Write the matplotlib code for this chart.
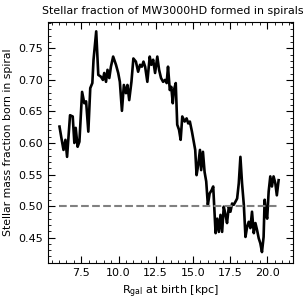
import matplotlib
matplotlib.use("Agg")
import matplotlib.pyplot as plt
from matplotlib.ticker import AutoMinorLocator

r_birth = [6.03, 6.18, 6.3, 6.43, 6.54, 6.74, 6.92, 7.03, 7.12, 7.25, 7.37, 7.55, 7.7, 7.82, 7.97,
           8.1, 8.24, 8.32, 8.5, 8.64, 8.82, 8.95, 9.04, 9.16, 9.26, 9.38, 9.49, 9.64, 9.83, 9.98,
           10.09, 10.23, 10.36, 10.5, 10.6, 10.72, 10.87, 11.0, 11.17, 11.32, 11.45, 11.57, 11.68,
           11.79, 11.94, 12.1, 12.21, 12.33, 12.46, 12.61, 12.73, 12.86, 13.0, 13.13, 13.24, 13.33,
           13.45, 13.55, 13.65, 13.73, 13.85, 13.95, 14.07, 14.18, 14.29, 14.45, 14.58, 14.69, 14.8,
           14.94, 15.16, 15.25, 15.36, 15.48, 15.56, 15.68, 15.79, 15.9, 16.01, 16.13, 16.26, 16.37,
           16.53, 16.64, 16.75, 16.86, 16.97, 17.08, 17.2, 17.3, 17.42, 17.53, 17.64, 17.75, 17.87,
           17.98, 18.09, 18.2, 18.31, 18.43, 18.54, 18.65, 18.76, 18.87, 18.98, 19.1, 19.21, 19.32,
           19.43, 19.54, 19.65, 19.76, 19.83, 19.92, 20.0, 20.1, 20.21, 20.32, 20.43, 20.55, 20.65,
           20.77]
frac_spiral = [0.626, 0.605, 0.589, 0.605, 0.578, 0.644, 0.642, 0.60, 0.624, 0.594, 0.602, 0.681,
               0.663, 0.666, 0.618, 0.687, 0.695, 0.732, 0.777, 0.708, 0.705, 0.70, 0.711, 0.697,
               0.716, 0.703, 0.721, 0.737, 0.724, 0.711, 0.697, 0.651, 0.692, 0.679, 0.692, 0.668,
               0.697, 0.734, 0.729, 0.713, 0.724, 0.721, 0.729, 0.721, 0.697, 0.737, 0.724, 0.732,
               0.711, 0.737, 0.716, 0.703, 0.697, 0.70, 0.695, 0.721, 0.684, 0.689, 0.663, 0.684,
               0.695, 0.629, 0.621, 0.605, 0.642, 0.634, 0.639, 0.631, 0.634, 0.618, 0.589, 0.549,
               0.565, 0.589, 0.557, 0.586, 0.554, 0.539, 0.502, 0.52, 0.525, 0.531, 0.457, 0.48,
               0.459, 0.486, 0.459, 0.499, 0.486, 0.473, 0.499, 0.491, 0.504, 0.502, 0.507, 0.512,
               0.536, 0.578, 0.536, 0.502, 0.451, 0.467, 0.475, 0.465, 0.491, 0.457, 0.473, 0.462,
               0.449, 0.441, 0.427, 0.451, 0.51, 0.488, 0.48, 0.523, 0.547, 0.531, 0.547, 0.536,
               0.517, 0.541]
ref_level = 0.5
ref_x = [6.0, 20.75]

fig = plt.figure(figsize=(3.07, 3.0), dpi=100)
ax = fig.add_axes([0.156, 0.124, 0.799, 0.803])
ax.plot(r_birth, frac_spiral, color="black", lw=1.9)
ax.plot(ref_x, [ref_level, ref_level], color="gray", ls="--", lw=1.5)
ax.set_xlim(5.25, 21.75)
ax.set_ylim(0.41, 0.792)
ax.set_xticks([7.5, 10.0, 12.5, 15.0, 17.5, 20.0])
ax.set_yticks([0.45, 0.50, 0.55, 0.60, 0.65, 0.70, 0.75])
ax.xaxis.set_minor_locator(AutoMinorLocator(5))
ax.yaxis.set_minor_locator(AutoMinorLocator(5))
ax.tick_params(which="both", direction="in", top=True, right=True, labelsize=8)
ax.tick_params(which="major", length=5)
ax.tick_params(which="minor", length=2.5)
ax.set_title("Stellar fraction of MW3000HD formed in spirals", fontsize=7.9, x=0.51)
ax.set_xlabel(r"R$_{\rm gal}$ at birth [kpc]", fontsize=8)
ax.set_ylabel("Stellar mass fraction born in spiral", fontsize=7.8)
fig.savefig("out.png", dpi=100)
